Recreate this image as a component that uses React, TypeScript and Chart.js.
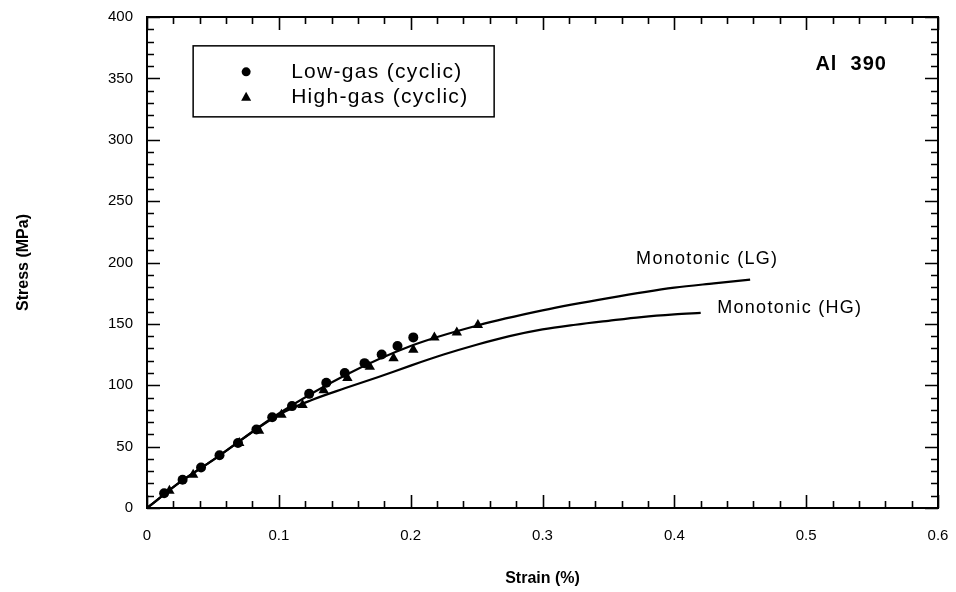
import React, { useEffect, useRef } from 'react';
import { Chart, registerables } from 'chart.js';

Chart.register(...registerables);

// ---- data ----
const lowGasStrain = [0.013, 0.027, 0.041, 0.055, 0.069, 0.083, 0.095, 0.110, 0.123, 0.136, 0.150, 0.165, 0.178, 0.190, 0.202];
const lowGasStress = [12, 23, 33, 43, 53, 64, 74, 83, 93, 102, 110, 118, 125, 132, 139];

const highGasStrain = [0.017, 0.035, 0.070, 0.085, 0.102, 0.118, 0.134, 0.152, 0.169, 0.187, 0.202, 0.218, 0.235, 0.251];
const highGasStress = [14, 27, 53, 63, 76, 84, 96, 106, 115, 122, 129, 139, 143, 149];

const monoLGStrain = [0, 0.025, 0.05, 0.1, 0.15, 0.2, 0.25, 0.3, 0.35, 0.4, 0.43, 0.4575];
const monoLGStress = [0, 21, 39, 77, 108, 132, 148.5, 161, 171, 179.5, 183, 186];

const monoHGStrain = [0, 0.025, 0.05, 0.1, 0.125, 0.15, 0.175, 0.2, 0.225, 0.25, 0.275, 0.3, 0.325, 0.35, 0.375, 0.4, 0.42];
const monoHGStress = [0, 21, 39, 76, 88, 97.5, 106.5, 116, 125, 133, 140, 145.5, 149.3, 152.5, 155.5, 157.7, 159];

const xTickValues = [0, 0.1, 0.2, 0.3, 0.4, 0.5, 0.6];
const xTickLabels = ['0', '0.1', '0.2', '0.3', '0.4', '0.5', '0.6'];
const yTickValues = [0, 50, 100, 150, 200, 250, 300, 350, 400];
const yTickLabels = ['0', '50', '100', '150', '200', '250', '300', '350', '400'];

const legendLabels = ['Low-gas (cyclic)', 'High-gas (cyclic)'];
const curveLabels = ['Monotonic (LG)', 'Monotonic (HG)'];
const panelLabel = 'Al  390';

const FONT = '"Liberation Sans", Arial, Helvetica, sans-serif';

const toPts = (xs: number[], ys: number[]) => xs.map((x, i) => ({ x, y: ys[i] }));

const framePlugin = {
  id: 'frameTicks',
  afterDatasetsDraw(chart: any) {
    const { ctx, chartArea } = chart;
    const { left, right, top, bottom } = chartArea;
    const xs = chart.scales.x;
    const ys = chart.scales.y;
    ctx.save();
    ctx.strokeStyle = '#000';
    ctx.lineWidth = 2;
    ctx.strokeRect(left, top, right - left, bottom - top);
    ctx.lineWidth = 1.6;
    const major = 13;
    const minor = 7;
    // x ticks (minor every 0.02)
    for (let i = 0; i <= 30; i++) {
      const v = i * 0.02;
      const px = Math.round(xs.getPixelForValue(v)) + 0.5;
      const len = i % 5 === 0 ? major : minor;
      ctx.beginPath();
      ctx.moveTo(px, bottom);
      ctx.lineTo(px, bottom - len);
      ctx.moveTo(px, top);
      ctx.lineTo(px, top + len);
      ctx.stroke();
    }
    // y ticks (minor every 10)
    for (let i = 0; i <= 40; i++) {
      const v = i * 10;
      const py = Math.round(ys.getPixelForValue(v)) + 0.5;
      const len = i % 5 === 0 ? major : minor;
      ctx.beginPath();
      ctx.moveTo(left, py);
      ctx.lineTo(left + len, py);
      ctx.moveTo(right, py);
      ctx.lineTo(right - len, py);
      ctx.stroke();
    }

    // legend box
    const lx = xs.getPixelForValue(0.035);
    const ly = ys.getPixelForValue(376.5);
    const lw = 301;
    const lh = 71;
    ctx.lineWidth = 1.5;
    ctx.strokeRect(lx, ly, lw, lh);
    ctx.fillStyle = '#000';
    const mx = lx + 53;
    const row1 = ly + 26;
    const row2 = ly + 51;
    ctx.beginPath();
    ctx.arc(mx, row1, 4.5, 0, Math.PI * 2);
    ctx.fill();
    ctx.beginPath();
    ctx.moveTo(mx, row2 - 5);
    ctx.lineTo(mx + 5, row2 + 4);
    ctx.lineTo(mx - 5, row2 + 4);
    ctx.closePath();
    ctx.fill();
    ctx.font = `21px ${FONT}`;
    ctx.textBaseline = 'middle';
    ctx.textAlign = 'left';
    try { (ctx as any).letterSpacing = '1.3px'; } catch (e) {}
    ctx.fillText(legendLabels[0], lx + 98, row1);
    ctx.fillText(legendLabels[1], lx + 98, row2);

    // curve labels
    ctx.font = `18px ${FONT}`;
    try { (ctx as any).letterSpacing = '1.3px'; } catch (e) {}
    ctx.fillText(curveLabels[0], xs.getPixelForValue(0.371), ys.getPixelForValue(203));
    ctx.fillText(curveLabels[1], xs.getPixelForValue(0.4325), ys.getPixelForValue(163));

    // panel label
    ctx.font = `bold 20px ${FONT}`;
    try { (ctx as any).letterSpacing = '1px'; } catch (e) {}
    ctx.fillText(panelLabel, xs.getPixelForValue(0.507), ys.getPixelForValue(361));
    ctx.restore();
  },
};

export default function App() {
  const ref = useRef<HTMLCanvasElement | null>(null);

  useEffect(() => {
    document.body.style.margin = '0';
    const canvas = ref.current;
    if (!canvas) return;
    const tickFont = { family: FONT, size: 15 };
    const chart = new Chart(canvas, {
      type: 'scatter',
      data: {
        datasets: [
          {
            label: legendLabels[0],
            data: toPts(lowGasStrain, lowGasStress),
            pointStyle: 'circle',
            pointRadius: 5,
            backgroundColor: '#000',
            borderColor: '#000',
            borderWidth: 0,
            showLine: false,
          },
          {
            label: legendLabels[1],
            data: toPts(highGasStrain, highGasStress),
            pointStyle: 'triangle',
            pointRadius: 6,
            backgroundColor: '#000',
            borderColor: '#000',
            borderWidth: 0,
            showLine: false,
          },
          {
            label: curveLabels[0],
            data: toPts(monoLGStrain, monoLGStress),
            showLine: true,
            pointRadius: 0,
            borderColor: '#000',
            borderWidth: 2.2,
            cubicInterpolationMode: 'monotone',
            fill: false,
          },
          {
            label: curveLabels[1],
            data: toPts(monoHGStrain, monoHGStress),
            showLine: true,
            pointRadius: 0,
            borderColor: '#000',
            borderWidth: 2.2,
            cubicInterpolationMode: 'monotone',
            fill: false,
          },
        ],
      } as any,
      options: {
        animation: false,
        responsive: false,
        devicePixelRatio: 1,
        layout: { padding: { top: 17, right: 18, left: 0, bottom: 0 } },
        plugins: {
          legend: { display: false },
          tooltip: { enabled: false },
        },
        scales: {
          x: {
            type: 'linear',
            min: 0,
            max: 0.6,
            afterBuildTicks: (s: any) => {
              s.ticks = xTickValues.map((v) => ({ value: v }));
            },
            afterFit: (s: any) => {
              s.height = 84;
              s.paddingLeft = 0;
              s.paddingRight = 0;
            },
            ticks: {
              callback: (_v: any, i: number) => xTickLabels[i],
              font: tickFont,
              color: '#000',
              padding: 19,
              maxRotation: 0,
              autoSkip: false,
            },
            grid: { display: false, drawTicks: false },
            border: { display: false },
            title: {
              display: true,
              text: 'Strain (%)',
              color: '#000',
              font: { family: FONT, size: 16, weight: 'bold' },
              padding: { top: 4, bottom: 4 },
            },
          },
          y: {
            type: 'linear',
            min: 0,
            max: 400,
            afterBuildTicks: (s: any) => {
              s.ticks = yTickValues.map((v) => ({ value: v }));
            },
            afterFit: (s: any) => {
              s.width = 147;
              s.paddingTop = 0;
              s.paddingBottom = 0;
            },
            ticks: {
              callback: (_v: any, i: number) => yTickLabels[i],
              font: tickFont,
              color: '#000',
              padding: 14,
              autoSkip: false,
            },
            grid: { display: false, drawTicks: false },
            border: { display: false },
            title: {
              display: true,
              text: 'Stress (MPa)',
              color: '#000',
              font: { family: FONT, size: 16, weight: 'bold' },
              padding: { top: 14, bottom: 14 },
            },
          },
        },
      } as any,
      plugins: [framePlugin],
    });
    return () => chart.destroy();
  }, []);

  return (
    <div style={{ width: 956, height: 592, background: '#fff' }}>
      <canvas ref={ref} width={956} height={592} style={{ display: 'block' }} />
    </div>
  );
}
